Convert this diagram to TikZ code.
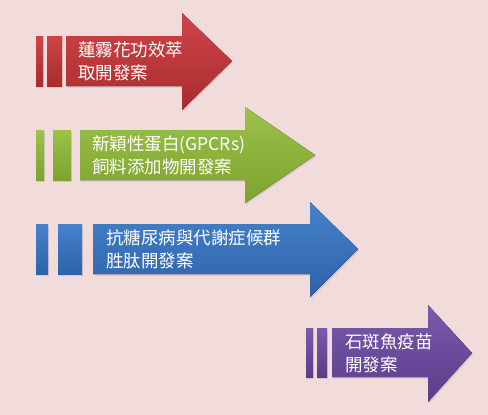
\documentclass[tikz,border=0pt]{standalone}
\usepackage{fontspec}
\newfontfamily\cjk{Noto Sans CJK TC}
\usetikzlibrary{shadows}
\definecolor{bg}{HTML}{F2DCDB}
\definecolor{redT}{HTML}{CE4548}
\definecolor{redB}{HTML}{A82B2E}
\definecolor{grnT}{HTML}{9CC24A}
\definecolor{grnB}{HTML}{7DA22E}
\definecolor{bluT}{HTML}{4682CC}
\definecolor{bluB}{HTML}{2E62A8}
\definecolor{purT}{HTML}{7A5AAC}
\definecolor{purB}{HTML}{5A3D8A}
\tikzset{
  shp/.style={draw=none, drop shadow={opacity=0.25, shadow xshift=1pt, shadow yshift=-1.5pt}},
  redS/.style={shp, top color=redT, bottom color=redB},
  grnS/.style={shp, top color=grnT, bottom color=grnB},
  bluS/.style={shp, top color=bluT, bottom color=bluB},
  purS/.style={shp, top color=purT, bottom color=purB},
  lbl/.style={text=white, font=\cjk\fontsize{17.5}{23}\selectfont, align=left, anchor=west, inner sep=0pt}
}
\begin{document}
\begin{tikzpicture}[x=1pt,y=-1pt]
\fill[bg] (0,0) rectangle (488,415);
\useasboundingbox (0,0) rectangle (488,415);
% red
\fill[redS] (36,36) rectangle (43,86);
\fill[redS] (47,36) rectangle (62,86);
\fill[redS] (66,36) -- (182,36) -- (182,13) -- (232,61) -- (182,110) -- (182,86) -- (66,86) -- cycle;
\node[lbl] (t1) at (78,61) {蓮霧花功效萃\\取開發案};
% green
\fill[grnS] (36,130) rectangle (44,180);
\fill[grnS] (53,130) rectangle (71,180);
\fill[grnS] (80,130) -- (245,130) -- (245,107) -- (315,155) -- (245,203) -- (245,180) -- (80,180) -- cycle;
\node[lbl] (t2) at (92,155) {新穎性蛋白(GPCRs)\\飼料添加物開發案};
% blue
\fill[bluS] (36,224) rectangle (48,274);
\fill[bluS] (58,224) rectangle (82,274);
\fill[bluS] (93,224) -- (310,224) -- (310,202) -- (358,249) -- (310,297) -- (310,274) -- (93,274) -- cycle;
\node[lbl] (t3) at (106,249) {抗糖尿病與代謝症候群\\胜肽開發案};
% purple
\fill[purS] (306,328) rectangle (313,377);
\fill[purS] (317,328) rectangle (327,377);
\fill[purS] (332,328) -- (428,328) -- (428,305) -- (472,353) -- (428,402) -- (428,377) -- (332,377) -- cycle;
\node[lbl] (t4) at (345,353) {石斑魚疫苗\\開發案};
\end{tikzpicture}
\end{document}
